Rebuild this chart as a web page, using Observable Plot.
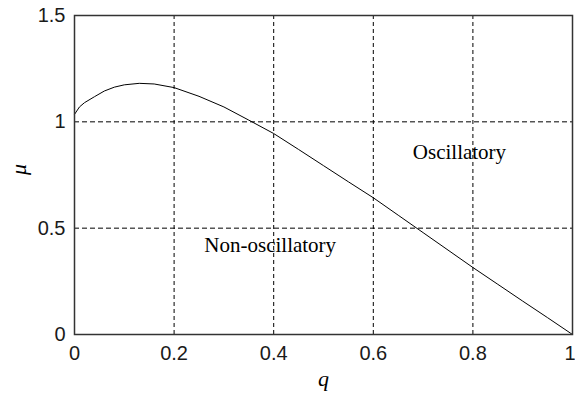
<!DOCTYPE html>
<html>
<head>
<meta charset="utf-8">
<script src="https://cdn.jsdelivr.net/npm/d3@7"></script>
<script src="https://cdn.jsdelivr.net/npm/@observablehq/plot@0.6"></script>
<style>
  html, body { margin: 0; padding: 0; background: white; }
</style>
</head>
<body>
<div id="chart"></div>
<script>
const qValues  = [0, 0.01, 0.02, 0.04, 0.06, 0.08, 0.10, 0.13, 0.16, 0.20, 0.25, 0.30, 0.35, 0.40, 0.45, 0.50, 0.55, 0.60, 0.65, 0.70, 0.75, 0.80, 0.85, 0.90, 0.95, 1.00];
const muValues = [1.035, 1.07, 1.09, 1.118, 1.145, 1.163, 1.174, 1.181, 1.178, 1.161, 1.12, 1.07, 1.008, 0.945, 0.87, 0.794, 0.718, 0.643, 0.561, 0.479, 0.397, 0.315, 0.236, 0.157, 0.079, 0];

const xTicks = [0, 0.2, 0.4, 0.6, 0.8];
const xTickLast = [1];
const yTicks = [0, 0.5, 1, 1.5];
const xGrid = [0.2, 0.4, 0.6, 0.8];
const yGrid = [0.5, 1];

const regionLabels = ["Oscillatory", "Non-oscillatory"];
const regionQ = [0.773, 0.393];
const regionMu = [0.855, 0.418];

const curve = qValues.map((q, i) => ({q, mu: muValues[i]}));
const regions = regionLabels.map((t, i) => ({t, q: regionQ[i], mu: regionMu[i]}));

const chart = Plot.plot({
  width: 575,
  height: 396,
  marginLeft: 74,
  marginRight: 3,
  marginTop: 15,
  marginBottom: 62,
  x: {domain: [0, 1]},
  y: {domain: [0, 1.5]},
  style: {fontFamily: "'Liberation Sans', Arial, sans-serif", fontSize: "20px", background: "white", color: "#1a1a1a"},
  marks: [
    Plot.ruleX(xGrid, {stroke: "black", strokeWidth: 1, strokeDasharray: "4,3"}),
    Plot.ruleY(yGrid, {stroke: "black", strokeWidth: 1, strokeDasharray: "5,3"}),
    Plot.line(curve, {x: "q", y: "mu", stroke: "black", strokeWidth: 1}),
    Plot.frame({stroke: "#333", strokeWidth: 1.5}),
    Plot.axisX({ticks: xTicks, tickSize: 0, tickPadding: 11, tickFormat: d => String(d), label: null, fontSize: 20}),
    Plot.axisX({ticks: xTickLast, tickSize: 0, tickPadding: 11, tickFormat: d => String(d), label: null, fontSize: 20, textAnchor: "end", dx: 3}),
    Plot.axisY({ticks: yTicks, tickSize: 0, tickPadding: 9, tickFormat: d => String(d), label: null, fontSize: 20}),
    Plot.text(regions, {x: "q", y: "mu", text: "t", fontFamily: "'Liberation Serif', 'Times New Roman', serif", fontSize: 21, fill: "black"}),
    Plot.text(["q"], {frameAnchor: "bottom", dy: 51, fontFamily: "'Liberation Serif', serif", fontStyle: "italic", fontSize: 22, fill: "black"}),
    Plot.text(["μ"], {frameAnchor: "left", dx: -56, rotate: -90, fontFamily: "'Liberation Serif', serif", fontStyle: "italic", fontSize: 22, fill: "black"})
  ]
});
document.getElementById("chart").appendChild(chart);
</script>
</body>
</html>
